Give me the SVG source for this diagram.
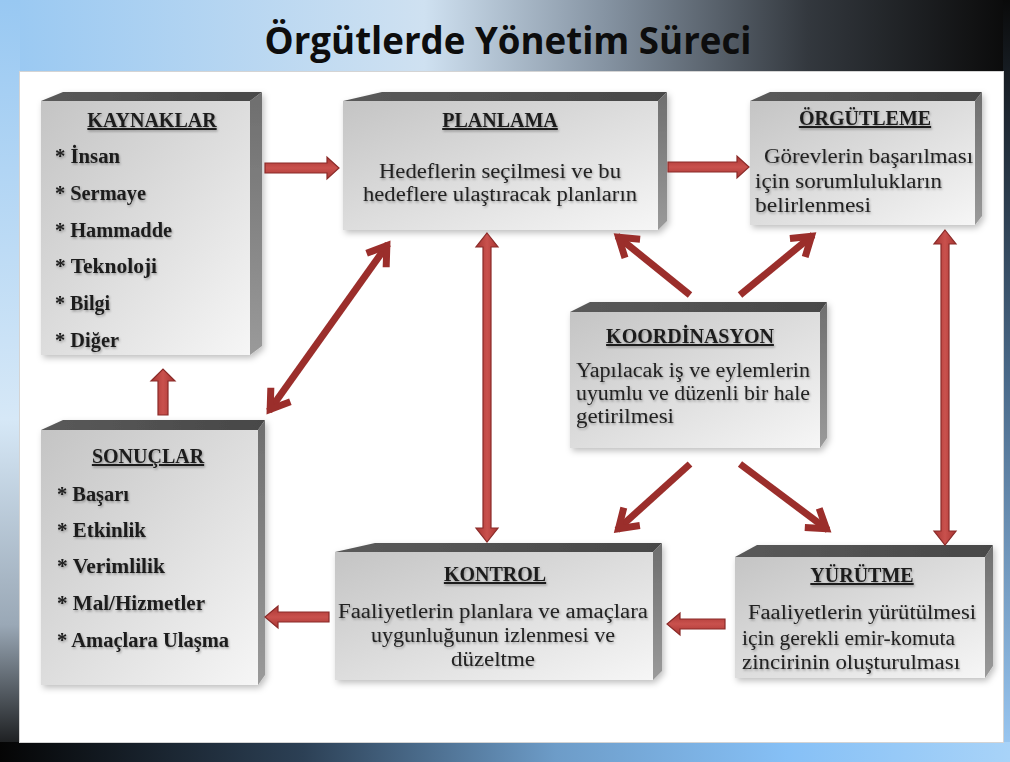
<svg xmlns="http://www.w3.org/2000/svg" width="1010" height="762" viewBox="0 0 1010 762">
<defs>
<linearGradient id="gTop" x1="0" y1="0" x2="1" y2="0">
<stop offset="0" stop-color="#98c8f2"/><stop offset="0.42" stop-color="#cfe1f1"/><stop offset="0.6" stop-color="#8593a2"/><stop offset="0.8" stop-color="#33383e"/><stop offset="1" stop-color="#0a0a0a"/>
</linearGradient>
<linearGradient id="gBot" x1="0" y1="0" x2="1" y2="0">
<stop offset="0" stop-color="#050505"/><stop offset="0.3" stop-color="#2c4055"/><stop offset="0.55" stop-color="#6d9cc8"/><stop offset="0.78" stop-color="#86c0f6"/><stop offset="1" stop-color="#a8d3f8"/>
</linearGradient>
<linearGradient id="gLeft" x1="0" y1="0" x2="0" y2="1">
<stop offset="0" stop-color="#98c8f2"/><stop offset="0.55" stop-color="#d6e8f7"/><stop offset="0.82" stop-color="#9aa8b6"/><stop offset="1" stop-color="#0a0a0a"/>
</linearGradient>
<linearGradient id="gRight" x1="0" y1="0" x2="0" y2="1">
<stop offset="0" stop-color="#0a0a0a"/><stop offset="0.5" stop-color="#4a6a8a"/><stop offset="1" stop-color="#9ccaf5"/>
</linearGradient>
<linearGradient id="gFront" x1="0" y1="0" x2="1" y2="1">
<stop offset="0" stop-color="#c4c4c4"/><stop offset="1" stop-color="#f6f6f6"/>
</linearGradient>
<linearGradient id="gTopFace" x1="0" y1="0" x2="1" y2="0">
<stop offset="0" stop-color="#5a5a5a"/><stop offset="1" stop-color="#474747"/>
</linearGradient>
<linearGradient id="gSide" x1="0" y1="0" x2="0" y2="1">
<stop offset="0" stop-color="#6e6e6e"/><stop offset="1" stop-color="#9a9a9a"/>
</linearGradient>
<linearGradient id="gArrH" x1="0" y1="0" x2="0" y2="1">
<stop offset="0" stop-color="#a83532"/><stop offset="0.5" stop-color="#c9514d"/><stop offset="1" stop-color="#a83532"/>
</linearGradient>
<linearGradient id="gArrV" x1="0" y1="0" x2="1" y2="0">
<stop offset="0" stop-color="#a83532"/><stop offset="0.5" stop-color="#c9514d"/><stop offset="1" stop-color="#a83532"/>
</linearGradient>
<filter id="shadow" x="-10%" y="-10%" width="125%" height="130%">
<feDropShadow dx="2" dy="3" stdDeviation="3" flood-color="#000" flood-opacity="0.25"/>
</filter>
<filter id="tshadow" x="-5%" y="-20%" width="110%" height="150%">
<feDropShadow dx="1" dy="1.5" stdDeviation="1" flood-color="#000" flood-opacity="0.3"/>
</filter>
<marker id="oh" markerUnits="userSpaceOnUse" markerWidth="40" markerHeight="40" refX="0" refY="0" viewBox="-25 -20 40 40" orient="auto-start-reverse" overflow="visible">
<path d="M-20,-12 L-2,0 L-20,12" fill="none" stroke="#9b2e2b" stroke-width="7" stroke-linejoin="miter" stroke-miterlimit="10"/>
</marker>
</defs>
<style>
.front{fill:url(#gFront);}
.topf{fill:url(#gTopFace);}
.side{fill:url(#gSide);}
.ttl{font-family:"Liberation Serif",serif;font-weight:bold;font-size:20px;fill:#1c1c1c;text-decoration:underline;text-anchor:middle;}
.item{font-family:"Liberation Serif",serif;font-weight:bold;font-size:20px;fill:#1c1c1c;}
.body{font-family:"Liberation Serif",serif;font-size:20px;fill:#222;}
.mid{text-anchor:middle;}
.dl{fill:none;stroke:#9b2e2b;stroke-width:7;marker-start:url(#oh);marker-end:url(#oh);}
.sl{fill:none;stroke:#9b2e2b;stroke-width:7;marker-end:url(#oh);}
.bh{fill:url(#gArrH);stroke:#8a2a28;stroke-width:1.2;}
.bv{fill:url(#gArrV);stroke:#8a2a28;stroke-width:1.2;}
</style>

<!-- background -->
<rect x="0" y="0" width="1010" height="762" fill="#ffffff"/>
<rect x="0" y="0" width="1010" height="72" fill="url(#gTop)"/>
<rect x="0" y="0" width="20" height="762" fill="url(#gLeft)"/>
<rect x="1003" y="0" width="7" height="762" fill="url(#gRight)"/>
<rect x="0" y="742" width="1010" height="20" fill="url(#gBot)"/>
<rect x="19.5" y="71.5" width="984" height="671" fill="#ffffff" stroke="#d4d4d4" stroke-width="1"/>
<text x="508" y="54" font-family="'Open Sans','Liberation Sans',sans-serif" font-weight="bold" font-size="38" fill="#0d0d0d" text-anchor="middle" textLength="487" lengthAdjust="spacingAndGlyphs">Örgütlerde Yönetim Süreci</text>

<!-- nodes -->
<g id="kaynaklar">
<g filter="url(#shadow)">
<rect class="front" x="41" y="101" width="209" height="254"/>
<polygon class="topf" points="41,101 63,92 262,92 250,101"/>
<polygon class="side" points="250,101 262,92 262,346 250,355"/>
</g>
<g filter="url(#tshadow)">
<text class="ttl" x="152" y="127">KAYNAKLAR</text>
<text class="item" x="55" y="163" textLength="65" lengthAdjust="spacingAndGlyphs">* İnsan</text>
<text class="item" x="55" y="200" textLength="91" lengthAdjust="spacingAndGlyphs">* Sermaye</text>
<text class="item" x="55" y="237" textLength="117" lengthAdjust="spacingAndGlyphs">* Hammadde</text>
<text class="item" x="55" y="273" textLength="102" lengthAdjust="spacingAndGlyphs">* Teknoloji</text>
<text class="item" x="55" y="310" textLength="55" lengthAdjust="spacingAndGlyphs">* Bilgi</text>
<text class="item" x="55" y="347" textLength="64" lengthAdjust="spacingAndGlyphs">* Diğer</text>
</g>
</g>

<g id="planlama">
<g filter="url(#shadow)">
<rect class="front" x="343" y="101" width="315" height="129"/>
<polygon class="topf" points="343,101 382,92 667,92 658,101"/>
<polygon class="side" points="658,101 667,92 667,221 658,230"/>
</g>
<g filter="url(#tshadow)">
<text class="ttl" x="500" y="127">PLANLAMA</text>
<text class="body mid" x="500" y="178" textLength="242" lengthAdjust="spacingAndGlyphs">Hedeflerin seçilmesi ve bu</text>
<text class="body mid" x="500" y="201" textLength="274" lengthAdjust="spacingAndGlyphs">hedeflere ulaştıracak planların</text>
</g>
</g>

<g id="orgutleme">
<g filter="url(#shadow)">
<rect class="front" x="750" y="101" width="225" height="124"/>
<polygon class="topf" points="750,101 770,92 982,92 975,101"/>
<polygon class="side" points="975,101 982,92 982,216 975,225"/>
</g>
<g filter="url(#tshadow)">
<text class="ttl" x="865" y="125">ÖRGÜTLEME</text>
<text class="body" x="764" y="163" textLength="209" lengthAdjust="spacingAndGlyphs">Görevlerin başarılması</text>
<text class="body" x="755" y="188" textLength="187" lengthAdjust="spacingAndGlyphs">için sorumlulukların</text>
<text class="body" x="755" y="212" textLength="116" lengthAdjust="spacingAndGlyphs">belirlenmesi</text>
</g>
</g>

<g id="koordinasyon">
<g filter="url(#shadow)">
<rect class="front" x="570" y="312" width="250" height="136"/>
<polygon class="topf" points="570,312 590,302 827,302 820,312"/>
<polygon class="side" points="820,312 827,302 827,438 820,448"/>
</g>
<g filter="url(#tshadow)">
<text class="ttl" x="690" y="343">KOORDİNASYON</text>
<text class="body" x="576" y="377" textLength="234" lengthAdjust="spacingAndGlyphs">Yapılacak iş ve eylemlerin</text>
<text class="body" x="576" y="400" textLength="234" lengthAdjust="spacingAndGlyphs">uyumlu ve düzenli bir hale</text>
<text class="body" x="576" y="423" textLength="98" lengthAdjust="spacingAndGlyphs">getirilmesi</text>
</g>
</g>

<g id="sonuclar">
<g filter="url(#shadow)">
<rect class="front" x="41" y="430" width="217" height="255"/>
<polygon class="topf" points="41,430 63,420 265,420 258,430"/>
<polygon class="side" points="258,430 265,420 265,675 258,685"/>
</g>
<g filter="url(#tshadow)">
<text class="ttl" x="148" y="463">SONUÇLAR</text>
<text class="item" x="57" y="501" textLength="72" lengthAdjust="spacingAndGlyphs">* Başarı</text>
<text class="item" x="57" y="537" textLength="89" lengthAdjust="spacingAndGlyphs">* Etkinlik</text>
<text class="item" x="57" y="573" textLength="108" lengthAdjust="spacingAndGlyphs">* Verimlilik</text>
<text class="item" x="57" y="610" textLength="148" lengthAdjust="spacingAndGlyphs">* Mal/Hizmetler</text>
<text class="item" x="57" y="647" textLength="172" lengthAdjust="spacingAndGlyphs">* Amaçlara Ulaşma</text>
</g>
</g>

<g id="kontrol">
<g filter="url(#shadow)">
<rect class="front" x="335" y="552" width="318" height="128"/>
<polygon class="topf" points="335,552 375,543 662,543 653,552"/>
<polygon class="side" points="653,552 662,543 662,671 653,680"/>
</g>
<g filter="url(#tshadow)">
<text class="ttl" x="495" y="581">KONTROL</text>
<text class="body mid" x="493" y="618" textLength="310" lengthAdjust="spacingAndGlyphs">Faaliyetlerin planlara ve amaçlara</text>
<text class="body mid" x="493" y="642" textLength="244" lengthAdjust="spacingAndGlyphs">uygunluğunun izlenmesi ve</text>
<text class="body mid" x="493" y="666" textLength="84" lengthAdjust="spacingAndGlyphs">düzeltme</text>
</g>
</g>

<g id="yurutme">
<g filter="url(#shadow)">
<rect class="front" x="735" y="557" width="250" height="121"/>
<polygon class="topf" points="735,557 757,545 993,545 985,557"/>
<polygon class="side" points="985,557 993,545 993,666 985,678"/>
</g>
<g filter="url(#tshadow)">
<text class="ttl" x="862" y="582">YÜRÜTME</text>
<text class="body" x="748" y="619" textLength="228" lengthAdjust="spacingAndGlyphs">Faaliyetlerin yürütülmesi</text>
<text class="body" x="742" y="645" textLength="213" lengthAdjust="spacingAndGlyphs">için gerekli emir-komuta</text>
<text class="body" x="742" y="669" textLength="218" lengthAdjust="spacingAndGlyphs">zincirinin oluşturulması</text>
</g>
</g>

<!-- connectors -->
<g id="connectors">
<polygon class="bh" points="265,163 327,163 327,157 339,168 327,179 327,173 265,173"/>
<polygon class="bh" points="668,162 737,162 737,156 749,167 737,178 737,172 668,172"/>
<polygon class="bv" points="158,415 158,381 151,381 163,369 175,381 168,381 168,415"/>
<polygon class="bh" points="329,612 278,612 278,606 265,617 278,628 278,622 329,622"/>
<polygon class="bh" points="725,619 680,619 680,613 667,624 680,635 680,629 725,629"/>
<polygon class="bv" points="487,233 498,247 491,247 491,528 498,528 487,542 476,528 483,528 483,247 476,247"/>
<polygon class="bv" points="945,230 956,244 949,244 949,531 956,531 945,545 934,531 941,531 941,244 934,244"/>
<line class="dl" x1="388" y1="244" x2="269" y2="411"/>
<line class="sl" x1="690" y1="295" x2="617" y2="236"/>
<line class="sl" x1="740" y1="295" x2="813" y2="235"/>
<line class="sl" x1="690" y1="464" x2="617" y2="530"/>
<line class="sl" x1="740" y1="464" x2="828" y2="530"/>
</g>
</svg>
